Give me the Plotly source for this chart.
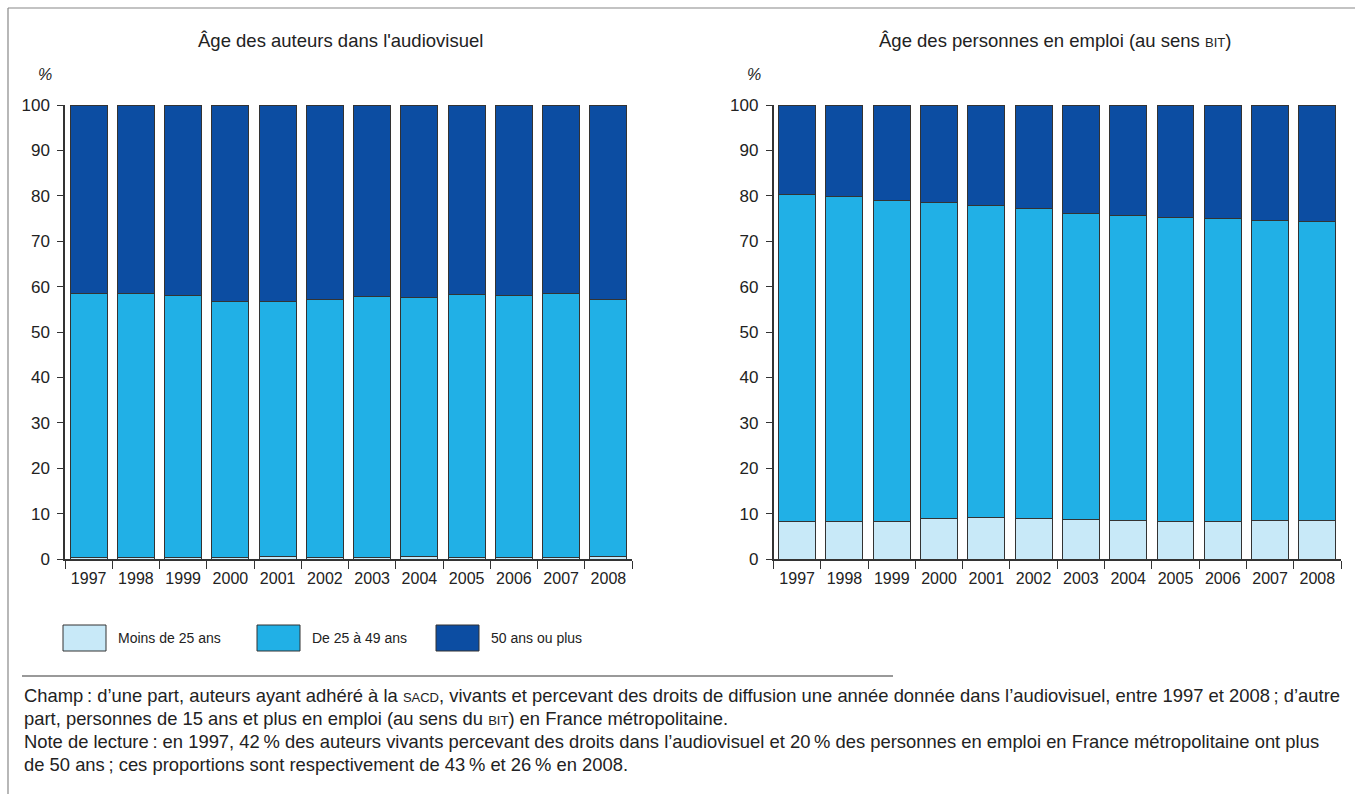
import plotly.graph_objects as go

# ---------------- data ----------------
years = ["1997", "1998", "1999", "2000", "2001", "2002", "2003", "2004", "2005", "2006", "2007", "2008"]
series_names = ["Moins de 25 ans", "De 25 à 49 ans", "50 ans ou plus"]

auteurs_moins25 = [0.3, 0.3, 0.3, 0.3, 0.5, 0.4, 0.4, 0.5, 0.3, 0.3, 0.4, 0.5]
auteurs_25_49 = [58.2, 58.2, 57.7, 56.4, 56.2, 56.7, 57.4, 57.2, 58.0, 57.7, 58.1, 56.7]
auteurs_50plus = [41.5, 41.5, 42.0, 43.3, 43.3, 42.9, 42.2, 42.3, 41.7, 42.0, 41.5, 42.8]

emploi_moins25 = [8.3, 8.3, 8.3, 9.0, 9.1, 8.9, 8.6, 8.5, 8.3, 8.3, 8.4, 8.4]
emploi_25_49 = [72.0, 71.6, 70.6, 69.6, 68.8, 68.2, 67.5, 67.1, 66.9, 66.6, 66.1, 65.9]
emploi_50plus = [19.7, 20.1, 21.1, 21.4, 22.1, 22.9, 23.9, 24.4, 24.8, 25.1, 25.5, 25.7]

y_ticks = [0, 10, 20, 30, 40, 50, 60, 70, 80, 90, 100]

colors = ["#C8E9F8", "#21B0E6", "#0C4DA2"]
W, H = 1355, 794
FONT = "Liberation Sans, Arial, sans-serif"
TXT = "#222222"


def px(x):
    return x / W


def py(y):
    return 1 - y / H


fig = go.Figure()

left_series = [auteurs_moins25, auteurs_25_49, auteurs_50plus]
right_series = [emploi_moins25, emploi_25_49, emploi_50plus]
for vals, name, col in zip(left_series, series_names, colors):
    fig.add_trace(go.Bar(x=years, y=vals, name=name, marker=dict(color=col, line=dict(color="#333333", width=1)),
                         xaxis="x", yaxis="y", showlegend=False))
for vals, name, col in zip(right_series, series_names, colors):
    fig.add_trace(go.Bar(x=years, y=vals, name=name, marker=dict(color=col, line=dict(color="#333333", width=1)),
                         xaxis="x2", yaxis="y2", showlegend=False))

ydom = [py(559), py(105)]
xaxis_common = dict(type="category", range=[-0.5, 11.5], tickson="boundaries", ticks="outside", ticklen=8,
                    tickcolor="#333333", tickwidth=1, showline=True, linecolor="#333333", linewidth=1.5,
                    showgrid=False, zeroline=False, tickfont=dict(family=FONT, size=16, color=TXT),
                    fixedrange=True, ticklabelstandoff=4, automargin=False)
yaxis_common = dict(range=[0, 100], tickvals=y_ticks, ticks="outside", ticklen=6, tickcolor="#333333",
                    tickwidth=1, showline=True, linecolor="#333333", linewidth=1.5, showgrid=False,
                    zeroline=False, tickfont=dict(family=FONT, size=17, color=TXT), domain=ydom,
                    fixedrange=True, ticklabelstandoff=4, automargin=False)

fig.update_layout(
    width=W, height=H, margin=dict(l=0, r=0, t=0, b=0, autoexpand=False),
    paper_bgcolor="white", plot_bgcolor="white",
    barmode="stack", bargap=0.22,
    xaxis=dict(domain=[px(65), px(632)], anchor="y", **xaxis_common),
    yaxis=dict(anchor="x", **yaxis_common),
    xaxis2=dict(domain=[px(773.5), px(1341)], anchor="y2", **xaxis_common),
    yaxis2=dict(anchor="x2", **yaxis_common),
)

ann = []
# titles
for xx, t in ((341, "Âge des auteurs dans l'audiovisuel"),
              (1055, "Âge des personnes en emploi (au sens <span style='font-size:13px'>BIT</span>)")):
    ann.append(dict(x=px(xx), y=py(40), text=t, xref="paper", yref="paper", showarrow=False,
                    xanchor="center", yanchor="middle", font=dict(family=FONT, size=18.5, color=TXT)))
# percent labels
for xx in (45, 754):
    ann.append(dict(x=px(xx), y=py(75), text="<i>%</i>", xref="paper", yref="paper", showarrow=False,
                    xanchor="center", yanchor="middle", font=dict(family=FONT, size=16, color=TXT)))

# custom legend
shapes = []
legend_x = [63, 257, 436]
for lx, name, col in zip(legend_x, series_names, colors):
    shapes.append(dict(type="rect", xref="paper", yref="paper", x0=px(lx), x1=px(lx + 43), y0=py(651), y1=py(625),
                       fillcolor=col, line=dict(color="#333333", width=1)))
    ann.append(dict(x=px(lx + 53), y=py(638), text=name, xref="paper", yref="paper", showarrow=False,
                    xanchor="left", yanchor="middle", font=dict(family=FONT, size=14, color=TXT)))

# separator line and frame
shapes.append(dict(type="line", xref="paper", yref="paper", x0=px(22), x1=px(893), y0=py(676), y1=py(676),
                   line=dict(color="#777777", width=1.5)))
shapes.append(dict(type="line", xref="paper", yref="paper", x0=px(8), x1=px(1360), y0=py(8), y1=py(8),
                   line=dict(color="#888888", width=1.2)))
shapes.append(dict(type="line", xref="paper", yref="paper", x0=px(8), x1=px(8), y0=py(8), y1=py(800),
                   line=dict(color="#888888", width=1.2)))

sc = "<span style='font-size:13px'>%s</span>"
nb = "\u202f"
notes = [
    (695, "Champ" + nb + ": d’une part, auteurs ayant adhéré à la " + sc % "SACD" + ", vivants et percevant des droits de diffusion une année donnée dans l’audiovisuel, entre 1997 et 2008" + nb + "; d’autre"),
    (718, "part, personnes de 15 ans et plus en emploi (au sens du " + sc % "BIT" + ") en France métropolitaine."),
    (741, "Note de lecture" + nb + ": en 1997, 42" + nb + "% des auteurs vivants percevant des droits dans l’audiovisuel et 20" + nb + "% des personnes en emploi en France métropolitaine ont plus"),
    (764, "de 50 ans" + nb + "; ces proportions sont respectivement de 43" + nb + "% et 26" + nb + "% en 2008."),
]
for yy, t in notes:
    ann.append(dict(x=px(22), y=py(yy), text=t, xref="paper", yref="paper", showarrow=False, xanchor="left",
                    yanchor="middle", font=dict(family=FONT, size=18.4, color=TXT)))

fig.update_layout(annotations=ann, shapes=shapes)
fig.write_html("out.html", config={"displayModeBar": False},
               post_script="document.body.style.margin='0px';document.body.style.overflow='hidden';")
